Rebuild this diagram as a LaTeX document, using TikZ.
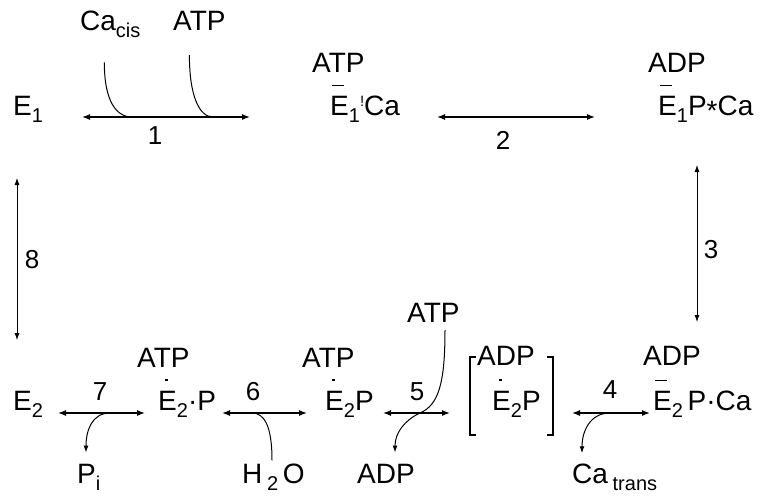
\documentclass[tikz,border=0pt]{standalone}
\usepackage{fontspec}
\setmainfont{Liberation Sans}
\usetikzlibrary{arrows.meta}
% E with a bar or a dot above it, and a lowered subscript
\newcommand{\Ebar}{\leavevmode\rlap{\hspace{0.06em}\raisebox{1.02em}{\rule{0.42em}{1.3pt}}}E}
\newcommand{\Edot}{\leavevmode\rlap{\hspace{0.24em}\raisebox{1.02em}{\rule{2.8pt}{2.8pt}}}E}
\newcommand{\sub}[1]{\raisebox{-0.25em}{\fontsize{20}{20}\selectfont #1}}

\begin{document}
\begin{tikzpicture}[x=1pt,y=-1pt,font=\fontsize{28}{30}\selectfont,
  sp/.style={anchor=base west,inner sep=0pt},
  num/.style={inner sep=0pt,font=\fontsize{26}{28}\selectfont},
  rxn/.style={line width=1.3pt,{Latex[length=8pt,width=6pt]}-{Latex[length=8pt,width=6pt]}},
  vrxn/.style={line width=0.8pt,{Latex[length=7pt,width=5pt]}-{Latex[length=7pt,width=5pt]}},
  side/.style={line width=1pt},
  sout/.style={line width=1pt,-{Latex[length=7pt,width=5pt]}}]
\useasboundingbox[fill=white] (0,0) rectangle (769,498);

% Top row
\node[sp] (cacis) at (80,30) {Ca\sub{cis}};
\node[sp] (atpa) at (173,30) {ATP};
\node[sp] (e1) at (13,115) {E\sub{1}};
\node[sp] (atpb) at (312,72) {ATP};
\node[sp] (e1ca) at (330,115) {\Ebar\sub{1}\raisebox{0.32em}{\fontsize{15}{15}\selectfont !}Ca};
\node[sp] (adpa) at (648,72) {ADP};
\node[sp] (e1pca) at (658,115) {\Ebar\sub{1}P\raisebox{-0.2em}{*}Ca};

\coordinate (r1l) at (82,117); \coordinate (r1r) at (250,117);
\coordinate (j1a) at (132,117); \coordinate (j1b) at (213,117);
\draw[rxn] (r1l) -- (r1r);
\node[num] (n1) at (155,136) {1};
\draw[side] ([xshift=-6pt,yshift=-25pt]cacis.south) .. controls +(0,40) and +(-15,0) .. (j1a);
\draw[side] ([xshift=-10pt,yshift=-25pt]atpa.south) .. controls +(0,40) and +(-14,0) .. (j1b);

\coordinate (r2l) at (437,117); \coordinate (r2r) at (595,117);
\draw[rxn] (r2l) -- (r2r);
\node[num] (n2) at (503,140) {2};

% Sides
\coordinate (r3t) at (697,165); \coordinate (r3b) at (697,322);
\draw[vrxn] (r3t) -- (r3b);
\node[num] (n3) at (711,250) {3};
\coordinate (r8t) at (17,178); \coordinate (r8b) at (17,340);
\draw[vrxn] (r8t) -- (r8b);
\node[num] (n8) at (32,260) {8};

% Bottom row
\node[sp] (e2) at (13,410) {E\sub{2}};
\node[sp] (atpc) at (137,367) {ATP};
\node[sp] (e2p) at (158,410) {\Edot\sub{2}·P};
\node[sp] (atpd) at (302,367) {ATP};
\node[sp] (e2pb) at (325,410) {\Edot\sub{2}P};
\node[sp] (atpe) at (407,322) {ATP};
\node[sp] (adpb) at (477,365) {ADP};
\node[sp] (e2pc) at (492,410) {\Edot\sub{2}P};
\node[sp] (adpc) at (643,365) {ADP};
\node[sp] (e2pca) at (653,410) {\Ebar\sub{2}\,P·Ca};
\node[sp] (pi) at (77,483) {P\sub{i}};
\node[sp] (h2o) at (242,483) {H\,\sub{2}\,O};
\node[sp] (adpd) at (357,483) {ADP};
\node[sp] (catr) at (572,483) {Ca\,\sub{trans}};

% complex in brackets
\draw[line width=1.1pt] (476,357) -- (470,357) -- (470,435) -- (476,435);
\draw[line width=1.1pt] (547,357) -- (553,357) -- (553,435) -- (547,435);

\coordinate (r7l) at (58,413); \coordinate (r7r) at (145,413); \coordinate (j7) at (110,413);
\draw[rxn] (r7l) -- (r7r);
\node[num] (n7) at (100,392) {7};
\draw[sout] (j7) .. controls +(-18,0) and +(0,-22) .. ([xshift=9pt,yshift=11pt]pi.north west);

\coordinate (r6l) at (222,413); \coordinate (r6r) at (307,413); \coordinate (j6) at (252,413);
\draw[rxn] (r6l) -- (r6r);
\node[num] (n6) at (253,392) {6};
\draw[side] ([xshift=30pt,yshift=3pt]h2o.north west) .. controls +(0,-35) and +(12,0) .. (j6);

\coordinate (r5l) at (383,413); \coordinate (r5r) at (450,413); \coordinate (j5) at (420,413);
\draw[rxn] (r5l) -- (r5r);
\node[num] (n5) at (417,392) {5};
\draw[sout] ([xshift=38pt,yshift=-8pt]atpe.south west) .. controls +(0,55) and +(18,-8) .. (j5)
  .. controls +(-15,7) and +(0,-20) .. ([xshift=38pt,yshift=11pt]adpd.north west);

\coordinate (r4l) at (572,413); \coordinate (r4r) at (650,413); \coordinate (j4) at (610,413);
\draw[rxn] (r4l) -- (r4r);
\node[num] (n4) at (610,390) {4};
\draw[sout] (j4) .. controls +(-20,0) and +(0,-22) .. ([xshift=10pt,yshift=10pt]catr.north west);
\end{tikzpicture}
\end{document}
